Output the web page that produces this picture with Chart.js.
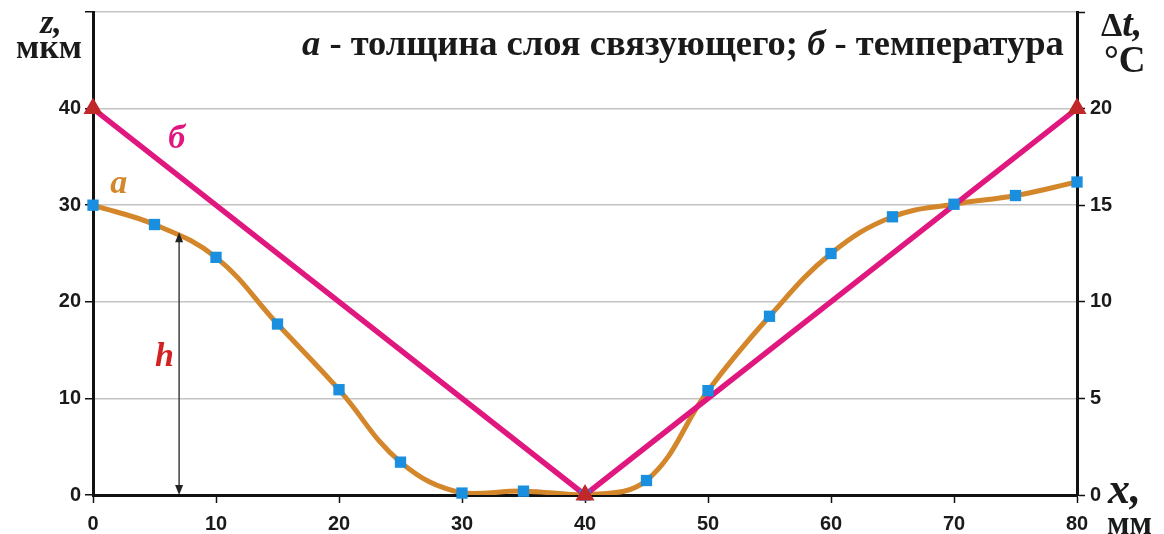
<!DOCTYPE html>
<html lang="ru">
<head>
<meta charset="utf-8">
<title>Толщина слоя связующего и температура</title>
<script src="https://cdn.jsdelivr.net/npm/chart.js@4.4.1/dist/chart.umd.min.js"></script>
<style>
  html, body { margin: 0; padding: 0; background: #ffffff; }
  #wrap { width: 1164px; height: 534px; position: relative; }
</style>
</head>
<body>
<div id="wrap"><canvas id="chart"></canvas></div>
<script>
// Positions along the sample, мм
const xPositions = [0, 5, 10, 15, 20, 25, 30, 35, 40, 45, 50, 55, 60, 65, 70, 75, 80];
// а – binder layer thickness z, мкм
const thickness = [30, 28, 24.6, 17.7, 10.9, 3.4, 0.2, 0.4, 0, 1.5, 10.8, 18.5, 25.0, 28.8, 30.1, 31.0, 32.4];
// б – temperature difference Δt, °C
const tempPositions = [0, 40, 80];
const tempValues = [20, 0, 20];
// Tick labels shown on each axis
const xTickLabels = [0, 10, 20, 30, 40, 50, 60, 70, 80];
const zTickLabels = [0, 10, 20, 30, 40];
const dtTickLabels = [0, 5, 10, 15, 20];
// Measured height h marked with the arrow
const hPosition = 7;
const hValue = 27.2;

const ORANGE = '#d4862a';
const PINK = '#e0177f';
const BLUE = '#1b8fdf';
const RED = '#c0282a';
const TICK_FONT = { family: '"Liberation Sans", Arial, sans-serif', size: 20, weight: 'bold' };
const SERIF = '"Liberation Serif", "Times New Roman", serif';

const thicknessPoints = xPositions.map((x, i) => ({ x: x, y: thickness[i] }));
const tempPoints = tempPositions.map((x, i) => ({ x: x, y: tempValues[i] }));

const whiteBackground = {
  id: 'whiteBackground',
  beforeDraw(chart) {
    const ctx = chart.ctx;
    ctx.save();
    ctx.fillStyle = '#ffffff';
    ctx.fillRect(0, 0, chart.width, chart.height);
    ctx.restore();
  }
};

// Axis titles, legend line, curve letters and the h arrow
const annotations = {
  id: 'annotations',
  afterDatasetsDraw(chart) {
    const ctx = chart.ctx;
    const xs = chart.scales.x, ys = chart.scales.y;
    ctx.save();

    // h arrow
    const ax = xs.getPixelForValue(hPosition);
    const top = ys.getPixelForValue(hValue);
    const bot = ys.getPixelForValue(0);
    ctx.strokeStyle = '#333';
    ctx.fillStyle = '#222';
    ctx.lineWidth = 1.4;
    ctx.beginPath();
    ctx.moveTo(ax, top + 6);
    ctx.lineTo(ax, bot - 6);
    ctx.stroke();
    ctx.beginPath();
    ctx.moveTo(ax, top); ctx.lineTo(ax - 4, top + 10); ctx.lineTo(ax + 4, top + 10); ctx.closePath(); ctx.fill();
    ctx.beginPath();
    ctx.moveTo(ax, bot); ctx.lineTo(ax - 4, bot - 10); ctx.lineTo(ax + 4, bot - 10); ctx.closePath(); ctx.fill();

    ctx.textBaseline = 'middle';
    ctx.textAlign = 'center';
    // curve letters
    ctx.font = 'italic bold 34px ' + SERIF;
    ctx.fillStyle = ORANGE;
    ctx.fillText('а', xs.getPixelForValue(2.1), ys.getPixelForValue(32.2));
    ctx.fillStyle = PINK;
    ctx.fillText('б', xs.getPixelForValue(6.8), ys.getPixelForValue(36.8));
    ctx.fillStyle = '#d42222';
    ctx.fillText('h', xs.getPixelForValue(5.8), ys.getPixelForValue(14.3));

    ctx.textBaseline = 'alphabetic';
    ctx.fillStyle = '#1a1a1a';
    // left axis title
    ctx.font = 'italic bold 34px ' + SERIF;
    ctx.fillText('z,', 51, 33);
    ctx.font = 'bold 34px ' + SERIF;
    ctx.fillText('мкм', 49, 58);

    // right axis title
    ctx.textAlign = 'left';
    ctx.font = 'bold 34px ' + SERIF;
    const dW = ctx.measureText('Δ').width;
    ctx.fillText('Δ', 1101, 36);
    ctx.font = 'italic bold 38px ' + SERIF;
    ctx.fillText('t,', 1101 + dW, 36);
    ctx.font = 'bold 37px ' + SERIF;
    ctx.fillText('°C', 1104, 72);

    // x axis title
    ctx.font = 'italic bold 44px ' + SERIF;
    ctx.fillText('x,', 1108, 503);
    ctx.font = 'bold 33px ' + SERIF;
    ctx.fillText('мм', 1107, 534);

    // legend line
    const parts = [
      ['italic bold', 'а'],
      ['bold', ' - толщина слоя связующего; '],
      ['italic bold', 'б'],
      ['bold', ' - температура']
    ];
    let px = 302;
    parts.forEach(([style, txt]) => {
      ctx.font = style + ' 36.5px ' + SERIF;
      ctx.fillText(txt, px, 55);
      px += ctx.measureText(txt).width;
    });

    ctx.restore();
  }
};

// The vertical axes run right up to the top edge of the plot
function fitVertical(width) {
  return function (scale) {
    scale.width = width;
    scale.paddingTop = 0;
    scale.paddingBottom = 0;
  };
}

new Chart(document.getElementById('chart'), {
  type: 'line',
  data: {
    datasets: [
      {
        label: 'Толщина слоя',
        data: thicknessPoints,
        yAxisID: 'y',
        borderColor: ORANGE,
        borderWidth: 5,
        tension: 0.4,
        pointRadius: 0,
        order: 4
      },
      {
        label: 'Температура',
        data: tempPoints,
        yAxisID: 'y2',
        borderColor: PINK,
        borderWidth: 5.5,
        tension: 0,
        pointRadius: 0,
        order: 3
      },
      {
        label: 'Толщина (точки)',
        data: thicknessPoints,
        yAxisID: 'y',
        showLine: false,
        clip: false,
        pointStyle: 'rect',
        pointRadius: 8,
        pointBackgroundColor: BLUE,
        pointBorderColor: BLUE,
        pointBorderWidth: 0,
        order: 2
      },
      {
        label: 'Температура (точки)',
        data: tempPoints,
        yAxisID: 'y2',
        showLine: false,
        clip: false,
        pointStyle: 'triangle',
        pointRadius: 11,
        pointBackgroundColor: RED,
        pointBorderColor: RED,
        pointBorderWidth: 0,
        order: 1
      }
    ]
  },
  options: {
    responsive: true,
    maintainAspectRatio: false,
    animation: false,
    layout: { padding: { top: 12, left: 0, right: 0, bottom: 0 } },
    plugins: {
      legend: { display: false },
      tooltip: { enabled: false }
    },
    scales: {
      x: {
        type: 'linear',
        min: 0,
        max: 80,
        afterFit(scale) { scale.height = 39; },
        afterBuildTicks(scale) { scale.ticks = xTickLabels.map(v => ({ value: v })); },
        ticks: { font: TICK_FONT, color: '#1a1a1a', padding: 9, maxRotation: 0 },
        grid: { drawOnChartArea: false, tickLength: 8, tickColor: '#111', tickWidth: 1.5 },
        border: { display: true, color: '#111', width: 3 }
      },
      y: {
        type: 'linear',
        position: 'left',
        min: 0,
        max: 50,
        afterFit: fitVertical(93),
        ticks: {
          stepSize: 10,
          font: TICK_FONT,
          color: '#1a1a1a',
          padding: 4,
          callback: v => zTickLabels.includes(v) ? String(v) : ''
        },
        grid: { color: '#c4c4c4', lineWidth: 1.5, tickLength: 8, tickColor: '#111', tickWidth: 1.5 },
        border: { display: true, color: '#111', width: 3 }
      },
      y2: {
        type: 'linear',
        position: 'right',
        min: 0,
        max: 25,
        afterFit: fitVertical(87),
        ticks: {
          stepSize: 5,
          font: TICK_FONT,
          color: '#1a1a1a',
          padding: 5,
          callback: v => dtTickLabels.includes(v) ? String(v) : ''
        },
        grid: { drawOnChartArea: false, tickLength: 8, tickColor: '#111', tickWidth: 1.5 },
        border: { display: true, color: '#111', width: 3 }
      }
    }
  },
  plugins: [whiteBackground, annotations]
});
</script>
</body>
</html>
